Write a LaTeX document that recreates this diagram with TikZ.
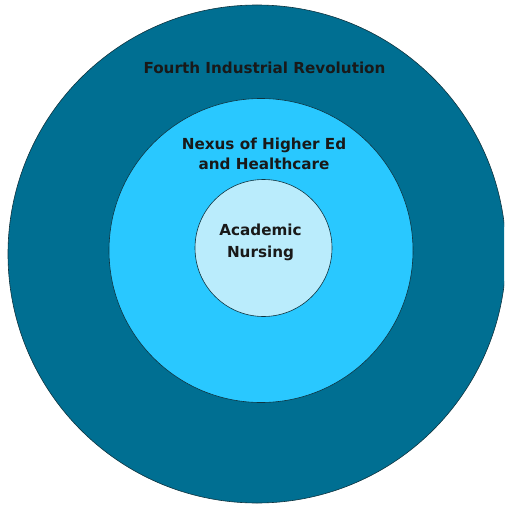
\documentclass[tikz,border=0pt]{standalone}
\usepackage{fontspec}
\setmainfont{DejaVu Sans}
\usepackage{tikz}
\usetikzlibrary{positioning}
\definecolor{revteal}{HTML}{006F92}
\definecolor{nexuscyan}{HTML}{29C8FF}
\definecolor{nursingblue}{HTML}{BAECFC}
\definecolor{ringline}{HTML}{0E3440}
\tikzstyle{ring} = [circle, draw=ringline, line width=0.6pt, inner sep=0pt]
\tikzstyle{ringtitle} = [text=black!90, font=\bfseries\fontsize{15.2}{20}\selectfont, align=center, inner sep=0pt]

\begin{document}
\begin{tikzpicture}[x=1pt,y=-1pt]
		\clip (0,0) rectangle (504,505);
		\node [ring, fill=revteal, minimum size=498pt] (outer) at (257,254) {};
		\node [ring, fill=nexuscyan, minimum size=304pt] (nexus) at (261,250.5) {};
		\node [ring, fill=nursingblue, minimum size=137pt] (nursing) at (263.5,248) {};
		\node [ringtitle, anchor=base] (outertitle) at (264.5,73.3) {Fourth Industrial Revolution};
		\node [ringtitle, anchor=base] (nexustitle) at (264,169.3) {Nexus of Higher Ed\\and Healthcare};
		\node [ringtitle, anchor=base, font=\bfseries\fontsize{15.2}{22}\selectfont] (nursingtitle) at (260.5,257.3) {Academic\\Nursing};
\end{tikzpicture}
\end{document}
